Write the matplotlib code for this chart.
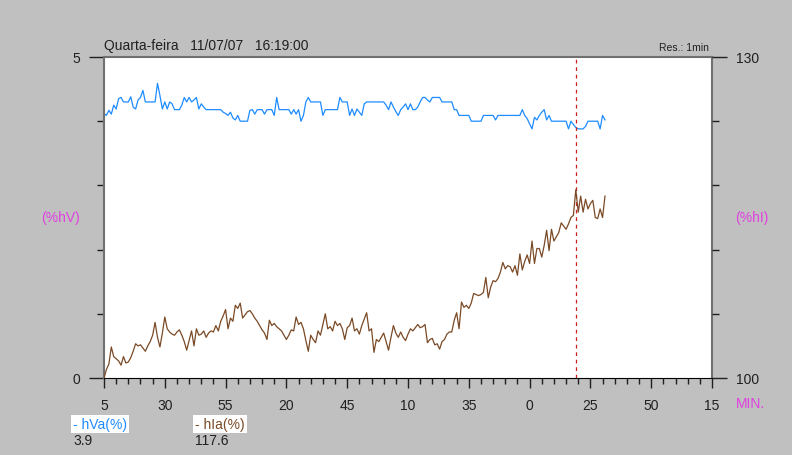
import matplotlib
matplotlib.use("Agg")
import matplotlib.pyplot as plt
import numpy as np

plt.rcParams["font.family"] = ["Liberation Sans", "DejaVu Sans"]

# ----- data (one reading per minute)
hv = [
    4.12, 4.09, 4.17, 4.11, 4.25, 4.19, 4.35, 4.37, 4.30, 4.30,
    4.30, 4.38, 4.22, 4.19, 4.33, 4.37, 4.48, 4.30, 4.30, 4.30,
    4.30, 4.30, 4.59, 4.40, 4.19, 4.30, 4.19, 4.30, 4.27, 4.18,
    4.18, 4.18, 4.25, 4.37, 4.30, 4.37, 4.30, 4.33, 4.37, 4.19,
    4.27, 4.22, 4.18, 4.18, 4.18, 4.18, 4.18, 4.18, 4.18, 4.14,
    4.12, 4.09, 4.14, 4.05, 4.02, 4.09, 4.00, 4.00, 4.00, 4.00,
    4.17, 4.18, 4.11, 4.18, 4.18, 4.18, 4.11, 4.18, 4.18, 4.18,
    4.09, 4.37, 4.18, 4.18, 4.18, 4.18, 4.18, 4.11, 4.18, 4.11,
    4.18, 4.00, 4.09, 4.30, 4.37, 4.30, 4.30, 4.30, 4.30, 4.30,
    4.09, 4.18, 4.18, 4.18, 4.18, 4.18, 4.18, 4.37, 4.30, 4.30,
    4.30, 4.09, 4.19, 4.09, 4.19, 4.14, 4.09, 4.27, 4.30, 4.30,
    4.30, 4.30, 4.30, 4.30, 4.30, 4.30, 4.25, 4.18, 4.30, 4.22,
    4.15, 4.09, 4.18, 4.22, 4.27, 4.18, 4.27, 4.18, 4.18, 4.22,
    4.30, 4.37, 4.37, 4.33, 4.30, 4.37, 4.37, 4.37, 4.37, 4.30,
    4.30, 4.30, 4.30, 4.30, 4.18, 4.18, 4.09, 4.09, 4.09, 4.09,
    4.09, 4.00, 4.00, 4.00, 4.00, 4.00, 4.09, 4.09, 4.09, 4.09,
    4.09, 4.02, 4.09, 4.09, 4.09, 4.09, 4.09, 4.09, 4.09, 4.09,
    4.09, 4.09, 4.18, 4.09, 4.04, 3.96, 3.88, 4.06, 4.02, 4.09,
    4.14, 4.18, 4.02, 4.09, 4.00, 4.00, 4.00, 4.00, 4.00, 4.00,
    4.00, 3.88, 4.00, 3.95, 3.90, 3.88, 3.88, 3.88, 3.92, 4.00,
    4.00, 4.00, 4.00, 4.00, 3.88, 4.09, 4.02,
]

hi = [
    100.0, 100.8, 101.3, 102.9, 102.0, 101.8, 101.6, 101.2, 102.0, 101.4,
    101.5, 101.9, 102.5, 103.2, 103.0, 103.1, 102.8, 102.5, 103.0, 103.4,
    104.0, 105.2, 103.8, 102.9, 104.2, 105.7, 104.6, 104.3, 104.1, 104.0,
    104.3, 104.5, 104.0, 103.4, 102.6, 103.5, 104.4, 103.0, 104.6, 104.0,
    104.1, 104.4, 103.8, 104.2, 104.4, 104.3, 104.9, 104.4, 105.3, 105.8,
    106.4, 104.6, 105.6, 105.3, 106.8, 106.5, 107.0, 105.6, 105.9, 106.2,
    106.3, 106.0, 105.6, 105.3, 104.9, 104.5, 104.2, 103.6, 105.4, 104.9,
    105.1, 104.8, 104.6, 104.4, 104.0, 103.6, 104.0, 104.5, 104.4, 105.7,
    105.0, 105.2, 104.6, 103.5, 102.5, 104.0, 103.6, 103.3, 104.4, 104.0,
    105.0, 106.0, 104.6, 104.8, 104.4, 105.3, 104.9, 105.1, 104.6, 103.6,
    104.7, 104.9, 105.6, 104.4, 104.6, 104.1, 104.9, 105.5, 106.1, 104.4,
    104.6, 102.4, 103.6, 103.4, 103.8, 104.2, 103.4, 102.6, 103.8, 104.9,
    104.2, 103.8, 104.3, 103.8, 103.5, 104.1, 104.6, 104.4, 104.7, 105.0,
    104.7, 104.8, 105.0, 103.3, 103.6, 103.7, 103.1, 103.2, 102.7, 103.4,
    103.6, 104.1, 104.3, 104.3, 105.4, 106.1, 104.6, 107.1, 106.6, 106.8,
    106.5, 107.0, 107.9, 107.8, 107.7, 107.8, 108.0, 109.4, 107.5, 108.5,
    109.1, 109.0, 109.3, 109.9, 110.8, 110.2, 110.5, 110.4, 109.9, 110.5,
    109.6, 111.6, 110.1, 110.9, 111.5, 110.7, 112.8, 110.7, 112.1, 112.1,
    111.3, 112.4, 113.8, 111.9, 113.9, 112.8, 113.2, 113.6, 114.5, 114.2,
    113.9, 114.4, 115.0, 115.2, 117.6, 115.5, 117.0, 115.5, 116.7, 115.8,
    116.3, 116.6, 115.0, 114.9, 115.8, 115.0, 117.0,
]

minutes = np.arange(len(hv))
cursor = 194                      # minute index of the cursor line

xticks = [0, 25, 50, 75, 100, 125, 150, 175, 200, 225, 250]
xtick_labels = ["5", "30", "55", "20", "45", "10", "35", "0", "25", "50", "15"]

C_HV = "#1e8cff"
C_HI = "#7a4a26"
C_MAG = "#e040e0"
C_BG = "#c0c0c0"
C_CURSOR = "#cc2020"

fig = plt.figure(figsize=(7.92, 4.56), dpi=100, facecolor=C_BG)
ax = fig.add_axes([104 / 792, 1 - 379 / 456, 608 / 792, 321 / 456])
ax.set_facecolor("white")
ax2 = ax.twinx()

ax.plot(minutes, hv, color=C_HV, lw=0.9)
ax2.plot(minutes, hi, color=C_HI, lw=0.9)
ax.axvline(cursor, color=C_CURSOR, lw=0.9, ls=(0, (3, 3)))

ax.set_xlim(0, 250)
ax.set_ylim(0, 5)
ax2.set_ylim(100, 130)

# x axis: long ticks every 25 min, short ticks every 5 min
ax.set_xticks(xticks)
ax.set_xticklabels(xtick_labels)
ax.set_xticks(np.arange(0, 251, 5), minor=True)
ax.tick_params(axis="x", which="major", length=7.5, width=1, colors="#202020",
               labelsize=10, pad=7)
ax.tick_params(axis="x", which="minor", length=4, width=1, colors="#202020")

# left axis
ax.set_yticks([0, 5])
ax.set_yticklabels(["0", "5"])
ax.set_yticks([1, 2, 3, 4], minor=True)
ax.tick_params(axis="y", which="major", length=11, width=1, colors="#202020",
               labelsize=10, pad=6)
ax.tick_params(axis="y", which="minor", length=5, width=1, colors="#202020")

# right axis
ax2.set_yticks([100, 130])
ax2.set_yticklabels(["100", "130"])
ax2.set_yticks([106, 112, 118, 124], minor=True)
ax2.tick_params(axis="y", which="major", length=11, width=1, colors="#202020",
                labelsize=10, pad=6)
ax2.tick_params(axis="y", which="minor", length=5, width=1, colors="#202020")

for name in ("left", "top", "right"):
    ax.spines[name].set_color("#707070")
    ax.spines[name].set_linewidth(1.5)
ax.spines["bottom"].set_color("black")
for sp in ax2.spines.values():
    sp.set_visible(False)

# labels around the frame
fig.text(104 / 792, 1 - 46 / 456, "Quarta-feira   11/07/07   16:19:00",
         fontsize=10, color="#202020", ha="left", va="center")
fig.text(709 / 792, 1 - 48 / 456, "Res.: 1min", fontsize=7.5,
         color="#202020", ha="right", va="center")
fig.text(60 / 792, 1 - 218 / 456, "(%hV)", fontsize=10, color=C_MAG,
         ha="center", va="center")
fig.text(752 / 792, 1 - 218 / 456, "(%hI)", fontsize=10, color=C_MAG,
         ha="center", va="center")
fig.text(736 / 792, 1 - 404 / 456, "MIN.", fontsize=10, color=C_MAG,
         ha="left", va="center")

# cursor readout
box = {"facecolor": "white", "edgecolor": "none", "pad": 1.5}
fig.text(73 / 792, 1 - 425 / 456, "- hVa(%)", fontsize=10, color=C_HV,
         ha="left", va="center", bbox=box)
fig.text(73 / 792, 1 - 441 / 456, f"{hv[cursor]:.1f}", fontsize=10,
         color="#202020", ha="left", va="center")
fig.text(195 / 792, 1 - 425 / 456, "- hIa(%)", fontsize=10, color=C_HI,
         ha="left", va="center", bbox=box)
fig.text(195 / 792, 1 - 441 / 456, f"{hi[cursor]:.1f}", fontsize=10,
         color="#202020", ha="left", va="center")

fig.savefig("out.png", dpi=100, facecolor=C_BG)
